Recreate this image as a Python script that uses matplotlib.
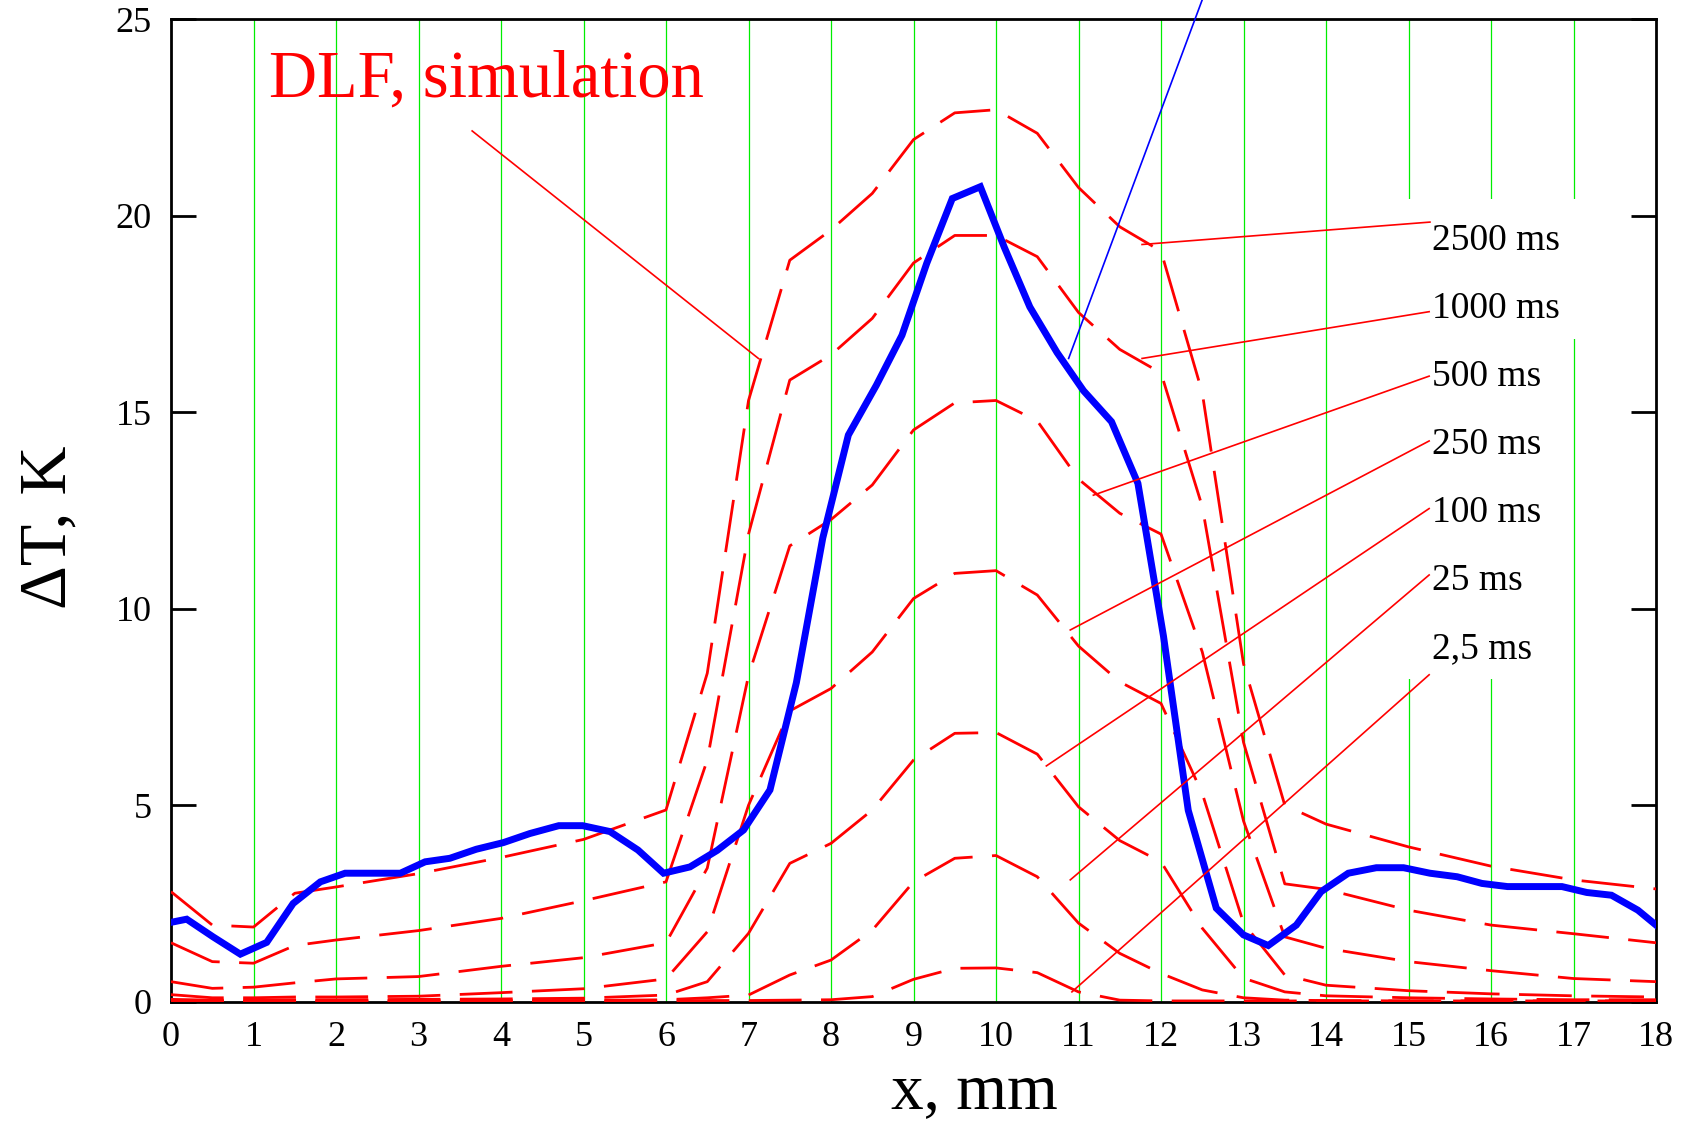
import matplotlib.pyplot as plt
from matplotlib.patches import Rectangle

plt.rcParams['font.family'] = ['Liberation Serif', 'DejaVu Serif']

# simulation grid, mm
x_sim = [0, 0.5, 1, 1.5, 2, 3, 4, 5, 6, 6.5, 7, 7.5, 8, 8.5, 9, 9.5, 10,
         10.5, 11, 11.5, 12, 12.5, 13, 13.5, 14, 15, 16, 17, 18]

t2500 = [2.8, 1.95, 1.9, 2.76, 2.92, 3.26, 3.67, 4.13, 4.88, 8.36, 15.3, 18.87, 19.64, 20.57, 21.94,
         22.62, 22.7, 22.1, 20.72, 19.72, 19.1, 15.5, 8.6, 5.0, 4.52, 3.94, 3.45, 3.1, 2.87]
t1000 = [1.5, 1.02, 0.98, 1.43, 1.57, 1.81, 2.12, 2.57, 3.05, 6.15, 11.9, 15.82, 16.46, 17.39, 18.8,
         19.5, 19.5, 18.96, 17.54, 16.6, 16.0, 12.6, 6.6, 3.0, 2.86, 2.33, 1.95, 1.73, 1.5]
t500 = [0.51, 0.34, 0.37, 0.48, 0.58, 0.64, 0.9, 1.12, 1.5, 3.4, 8.3, 11.6, 12.27, 13.15, 14.55,
        15.24, 15.3, 14.78, 13.3, 12.43, 11.9, 8.9, 4.6, 1.65, 1.36, 1.02, 0.79, 0.59, 0.51]
t250 = [0.18, 0.1, 0.1, 0.12, 0.12, 0.14, 0.23, 0.33, 0.58, 1.78, 5.0, 7.4, 7.97, 8.9, 10.26,
        10.9, 10.97, 10.35, 9.05, 8.14, 7.59, 5.3, 2.0, 0.68, 0.42, 0.28, 0.2, 0.15, 0.12]
t100 = [0.06, 0.04, 0.04, 0.05, 0.05, 0.06, 0.07, 0.09, 0.17, 0.51, 1.74, 3.52, 4.03, 4.88, 6.15,
        6.83, 6.85, 6.3, 4.96, 4.1, 3.56, 1.87, 0.6, 0.25, 0.15, 0.1, 0.07, 0.05, 0.05]
t25 = [0.03, 0.02, 0.02, 0.02, 0.02, 0.02, 0.02, 0.03, 0.05, 0.1, 0.17, 0.68, 1.06, 1.82, 3.05,
       3.65, 3.72, 3.18, 2.0, 1.23, 0.72, 0.3, 0.1, 0.04, 0.03, 0.02, 0.02, 0.02, 0.02]
t2_5 = [0.02, 0.02, 0.02, 0.02, 0.02, 0.02, 0.02, 0.02, 0.02, 0.03, 0.03, 0.04, 0.05, 0.13, 0.57,
        0.85, 0.86, 0.74, 0.25, 0.04, 0.02, 0.02, 0.02, 0.02, 0.02, 0.02, 0.02, 0.02, 0.02]

# measurement (blue)
x_exp = [0, 0.19, 0.51, 0.84, 1.16, 1.48, 1.81, 2.11, 2.45, 2.78, 3.08, 3.38, 3.7, 4.03, 4.35,
         4.7, 4.99, 5.32, 5.66, 5.97, 6.29, 6.62, 6.94, 7.26, 7.58, 7.9, 8.21, 8.55, 8.86, 9.16,
         9.47, 9.81, 10.1, 10.41, 10.74, 11.06, 11.4, 11.72, 12.03, 12.33, 12.67, 13.0, 13.3,
         13.64, 13.94, 14.27, 14.61, 14.94, 15.26, 15.59, 15.89, 16.2, 16.53, 16.86, 17.16,
         17.46, 17.78, 18.0]
t_exp = [2.02, 2.1, 1.65, 1.21, 1.51, 2.5, 3.05, 3.27, 3.27, 3.27, 3.56, 3.65, 3.88, 4.05, 4.28,
         4.48, 4.48, 4.33, 3.86, 3.27, 3.43, 3.85, 4.37, 5.39, 8.12, 11.8, 14.42, 15.69, 16.96,
         18.79, 20.44, 20.74, 19.2, 17.68, 16.52, 15.55, 14.76, 13.19, 9.3, 4.87, 2.38, 1.7,
         1.43, 1.95, 2.8, 3.27, 3.41, 3.41, 3.27, 3.18, 3.01, 2.93, 2.93, 2.93, 2.78, 2.71,
         2.33, 1.95]

labels = ['2500 ms', '1000 ms', '500 ms', '250 ms', '100 ms', '25 ms', '2,5 ms']
label_y = [19.13, 17.40, 15.67, 13.94, 12.21, 10.48, 8.75]
# leader lines: label end and curve end
lead_from = [(15.26, 19.84), (15.25, 17.56), (15.25, 15.92), (15.25, 14.27),
             (15.25, 12.55), (15.25, 10.86), (15.25, 8.32)]
lead_to = [(11.77, 19.27), (11.77, 16.37), (11.18, 12.89), (10.9, 9.46),
           (10.61, 6.0), (10.9, 3.1), (10.92, 0.25)]

fig = plt.figure(figsize=(16.85, 11.24), dpi=100)
ax = fig.add_axes([0.1015, 0.1088, 0.8813, 0.874])
ax.set_xlim(0, 18)
ax.set_ylim(0, 25)

for g in range(1, 18):
    ax.axvline(g, color='#00ee00', lw=0.9, zorder=0)
# white background behind the time labels
ax.add_patch(Rectangle((14.7, 8.2), 1.8, 12.22, facecolor='white', edgecolor='none', zorder=0.5))
ax.add_patch(Rectangle((16.5, 16.86), 0.9, 3.56, facecolor='white', edgecolor='none', zorder=0.5))

for t in [t2500, t1000, t500, t250, t100, t25, t2_5]:
    ax.plot(x_sim, t, color='red', lw=2.0, dashes=(19, 7), zorder=3)

ax.plot(x_exp, t_exp, color='blue', lw=5, zorder=4, solid_joinstyle='miter')

for (x0, y0), (x1, y1) in zip(lead_from, lead_to):
    ax.plot([x0, x1], [y0, y1], color='red', lw=1.2, zorder=5)
for lab, y in zip(labels, label_y):
    ax.text(15.28, y, lab, fontsize=27, ha='left', va='baseline', zorder=6)

ax.plot([3.65, 7.12], [22.16, 16.37], color='red', lw=1.2, zorder=5)
ax.text(1.19, 23.03, 'DLF, simulation', fontsize=48, color='red', ha='left', va='baseline')
ax.plot([10.88, 12.5], [16.37, 25.5], color='blue', lw=1.2, zorder=5, clip_on=False)

ax.set_xticks(range(19))
ax.set_yticks([0, 5, 10, 15, 20, 25])
ax.tick_params(axis='y', direction='in', length=18, width=2, right=True, labelsize=26, pad=14)
ax.tick_params(axis='x', length=0, labelsize=26, pad=14)
for s in ax.spines.values():
    s.set_linewidth(2)

fig.text(974 / 1685, 1 - 1108 / 1124, 'x, mm', fontsize=47, ha='center', va='baseline')
fig.text(66 / 1685, 1 - 527 / 1124, 'ΔT, K', fontsize=49, rotation=90,
         rotation_mode='anchor', ha='center', va='baseline')

fig.savefig('out.png', dpi=100)
